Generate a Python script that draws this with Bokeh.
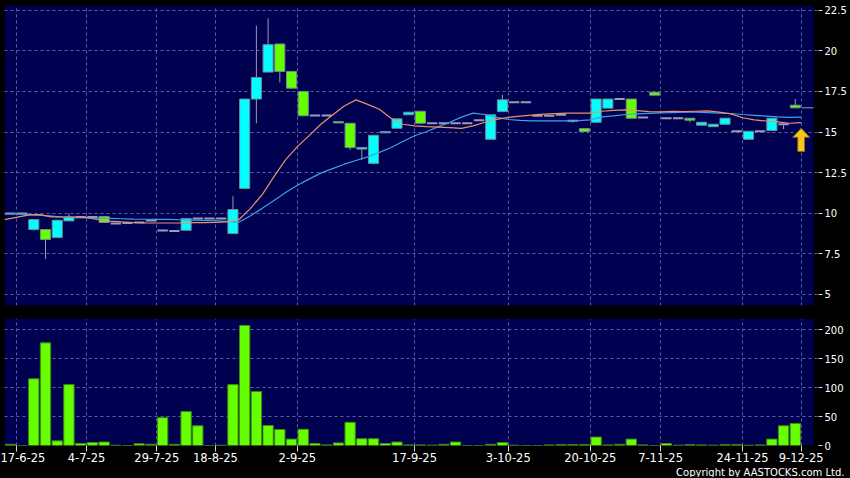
from bokeh.plotting import figure
from bokeh.layouts import column
from bokeh.models import (Range1d, FixedTicker, BoxAnnotation, Title, GlobalInlineStyleSheet)
from bokeh.embed import file_html
from bokeh.resources import INLINE

# ---------------- data ----------------
x_ticks = [0.5, 6.5, 12.5, 17.5, 24.5, 34.5, 42.5, 49.5, 55.5, 62.5, 67.5]
x_labels = ["17-6-25", "4-7-25", "29-7-25", "18-8-25", "2-9-25", "17-9-25",
            "3-10-25", "20-10-25", "7-11-25", "24-11-25", "9-12-25"]
price_ticks = [5, 7.5, 10, 12.5, 15, 17.5, 20, 22.5]
price_labels = ["5", "7.5", "10", "12.5", "15", "17.5", "20", "22.5"]
vol_ticks = [0, 50, 100, 150, 200]
vol_labels = ["0", "50", "100", "150", "200"]

open_ = [9.98, 9.98, 9.00, 9.00, 8.50, 9.53, 9.77, 9.77, 9.80, 9.37,
         9.40, 9.43, 9.55, 8.93, 8.90, 8.95, 9.68, 9.68, 9.68, 8.75,
         11.53, 17.03, 18.69, 20.42, 18.73, 17.50, 16.01, 16.01, 15.64, 15.54,
         13.95, 13.07, 14.95, 15.23, 16.06, 16.28, 15.54, 15.54, 15.54, 15.54,
         15.72, 14.55, 16.26, 16.84, 16.84, 16.00, 16.00, 16.06, 15.69, 15.21,
         15.60, 16.47, 17.03, 17.03, 15.89, 17.45, 15.85, 15.85, 15.85, 15.42,
         15.33, 15.48, 15.05, 14.55, 15.05, 15.09, 15.48, 16.65]
high = [9.98, 9.98, 9.61, 9.00, 9.57, 9.98, 9.77, 9.77, 9.80, 9.37,
        9.40, 9.43, 9.55, 8.93, 8.90, 9.68, 9.68, 9.68, 9.68, 11.05,
        17.03, 21.55, 22.00, 20.42, 18.73, 17.50, 16.01, 16.01, 15.64, 15.54,
        14.05, 14.80, 15.03, 15.81, 16.22, 16.28, 15.54, 15.54, 15.54, 15.54,
        15.72, 16.06, 17.29, 16.84, 16.84, 16.00, 16.00, 16.06, 15.69, 15.21,
        17.03, 17.03, 17.03, 17.03, 15.89, 17.45, 15.85, 15.85, 15.85, 15.60,
        15.48, 15.85, 15.05, 15.05, 15.05, 15.85, 15.48, 17.03]
low = [9.98, 9.98, 8.92, 7.18, 8.50, 9.53, 9.77, 9.77, 9.43, 9.37,
       9.40, 9.43, 9.55, 8.93, 8.90, 8.95, 9.68, 9.68, 9.68, 8.75,
       11.53, 15.54, 18.69, 18.05, 17.70, 16.00, 16.01, 16.01, 15.56, 13.90,
       13.28, 13.00, 14.95, 15.23, 16.06, 15.54, 15.54, 15.54, 15.54, 15.54,
       15.72, 14.55, 16.26, 16.84, 16.84, 16.00, 16.00, 16.06, 15.58, 15.03,
       15.55, 16.47, 17.03, 15.85, 15.89, 17.27, 15.85, 15.85, 15.60, 15.42,
       15.33, 15.48, 15.05, 14.55, 15.05, 15.05, 15.17, 16.49]
close = [9.98, 9.98, 9.61, 8.38, 9.57, 9.77, 9.77, 9.77, 9.43, 9.37,
         9.40, 9.43, 9.55, 8.93, 8.90, 9.68, 9.68, 9.68, 9.68, 10.23,
         17.03, 18.36, 20.38, 18.73, 17.70, 16.00, 16.01, 16.01, 15.56, 14.04,
         14.05, 14.80, 15.03, 15.81, 16.22, 15.54, 15.54, 15.54, 15.54, 15.54,
         15.72, 16.06, 16.98, 16.84, 16.84, 16.00, 16.00, 16.06, 15.69, 15.03,
         17.03, 17.03, 17.03, 15.85, 15.89, 17.27, 15.85, 15.85, 15.73, 15.60,
         15.48, 15.85, 15.05, 15.05, 15.05, 15.85, 15.48, 16.49]
volume = [2, 0, 115, 177, 8, 105, 3.5, 5, 6, 0.5,
          0, 3, 2, 48, 2, 58.5, 34, 0, 0.5, 105,
          207, 93, 34.5, 27.5, 11, 28, 3.5, 1, 4.5, 40,
          11.7, 11.7, 3.5, 6, 1, 1, 0.5, 2, 6, 0,
          0, 2, 5, 0.5, 0, 0, 1, 1.5, 1.5, 1.5,
          14.6, 1, 2, 11, 1, 0, 3.5, 0.5, 1.5, 1,
          0.5, 1.5, 1.5, 0.5, 1, 11, 34, 38]
ma_short = [9.61, 9.75, 9.88, 9.92, 9.78, 9.77, 9.77, 9.74, 9.60, 9.52,
            9.47, 9.43, 9.41, 9.40, 9.40, 9.40, 9.42, 9.42, 9.43, 9.47,
            9.60, 10.30, 11.15, 12.25, 13.30, 14.10, 14.78, 15.48, 16.05, 16.60,
            16.98, 16.70, 16.40, 15.85, 15.48, 15.38, 15.33, 15.30, 15.27, 15.23,
            15.38, 15.60, 15.78, 15.90, 15.98, 16.04, 16.10, 16.13, 16.16, 16.16,
            16.16, 16.28, 16.33, 16.36, 16.32, 16.26, 16.24, 16.28, 16.26, 16.28,
            16.30, 16.22, 16.12, 15.88, 15.75, 15.68, 15.62, 15.54, 15.58]
ma_long = [9.96, 9.96, 9.93, 9.88, 9.82, 9.76, 9.73, 9.71, 9.70, 9.68,
           9.66, 9.64, 9.63, 9.62, 9.62, 9.60, 9.58, 9.56, 9.53, 9.50,
           9.45, 9.85, 10.30, 10.78, 11.28, 11.72, 12.10, 12.47, 12.75, 13.02,
           13.25, 13.47, 13.75, 14.05, 14.42, 14.77, 15.02, 15.32, 15.60, 15.92,
           16.16, 16.08, 15.90, 15.77, 15.72, 15.69, 15.69, 15.69, 15.69, 15.70,
           15.75, 15.93, 16.00, 16.08, 16.12, 16.15, 16.18, 16.20, 16.22, 16.22,
           16.20, 16.17, 16.14, 16.08, 16.03, 15.98, 15.93, 15.90, 15.92]
arrow_x = 67.5
arrow_tip = 15.23
arrow_tail = 13.80

# ---------------- styling / layout ----------------
NAVY = "#000050"
GRID = "#5e5e9c"
CYAN = "#00FFFF"
LIME = "#66FF00"
FONT = "DejaVu Sans"
X_END = 68.55          # right edge of the navy panel (data units)
X_MAX = 68.98          # frame extends a few px past the navy panel
W = 849
LEFT, RIGHT = 4, 30
FRAME_W = W - LEFT - RIGHT
P_LO, P_HI = 4.32, 22.79
TOP_FRAME_H = 300

n = len(close)
idx = list(range(n))

x_range = Range1d(-0.5, X_MAX)

def style(p, ticks, labels):
    p.add_layout(BoxAnnotation(left=-0.5, right=X_END, fill_color=NAVY, fill_alpha=1.0,
                               line_color=None, level="image"))
    p.xgrid.ticker = FixedTicker(ticks=x_ticks)
    p.ygrid.ticker = FixedTicker(ticks=ticks)
    for g in (p.xgrid, p.ygrid):
        g.grid_line_color = GRID
        g.grid_line_dash = "3 3"
        g.grid_line_width = 1
    ax = p.yaxis[0]
    ax.ticker = FixedTicker(ticks=ticks)
    ax.major_label_overrides = dict(zip(ticks, labels))
    ax.axis_line_color = None
    ax.major_tick_line_color = "#d8d8d8"
    ax.major_tick_out = 4
    ax.major_tick_in = 0
    ax.minor_tick_line_color = None
    ax.major_label_text_color = "white"
    ax.major_label_text_font = FONT
    ax.major_label_text_font_size = "10px"
    ax.major_label_standoff = 2

# ---------------- price panel ----------------
top = figure(width=W, height=5 + TOP_FRAME_H + 1, x_range=x_range, y_range=Range1d(P_LO, P_HI),
             output_backend="svg", toolbar_location=None, y_axis_location="right",
             background_fill_color="black", border_fill_color="black",
             outline_line_color=None, min_border_left=LEFT, min_border_right=RIGHT,
             min_border_top=5, min_border_bottom=1)
top.xaxis.visible = False
style(top, price_ticks, price_labels)

body_x, body_top, body_bot, body_col = [], [], [], []
dash_x, dash_y = [], []
for i in idx:
    if open_[i] == close[i]:
        dash_x.append(i)
        dash_y.append(close[i])
    else:
        body_x.append(i)
        body_top.append(max(open_[i], close[i]))
        body_bot.append(min(open_[i], close[i]))
        body_col.append(CYAN if close[i] > open_[i] else LIME)

top.segment(x0=idx, y0=low, x1=idx, y1=high, line_color="#9a9aae", line_width=1)
top.vbar(x=body_x, top=body_top, bottom=body_bot, width=0.86, fill_color=body_col,
         line_color="#6f8c94", line_width=1)
top.segment(x0=[v - 0.44 for v in dash_x], y0=dash_y, x1=[v + 0.44 for v in dash_x],
            y1=dash_y, line_color="#9a9cb6", line_width=2)

ma_x = [k - 0.5 for k in range(len(ma_short))]
top.line(ma_x, ma_long, line_color="#3f9fe6", line_width=1.2)
top.line(ma_x, ma_short, line_color="#e8926a", line_width=1.2)

# last price marker
top.segment(x0=[n - 1 + 0.55], y0=[close[-1]], x1=[X_END], y1=[close[-1]],
            line_color="#a0a0b4", line_width=1)

# yellow arrow (pixel-sized shape anchored at a data point)
ux = FRAME_W / (X_MAX + 0.5)
uy = TOP_FRAME_H / (P_HI - P_LO)
hw, hh, sw = 8.5 / ux, 9 / uy, 3.4 / ux
ax_ = [arrow_x, arrow_x + hw, arrow_x + sw, arrow_x + sw, arrow_x - sw, arrow_x - sw, arrow_x - hw]
ay_ = [arrow_tip, arrow_tip - hh, arrow_tip - hh, arrow_tail, arrow_tail, arrow_tip - hh, arrow_tip - hh]
top.patch(ax_, ay_, fill_color="#f7c51e", line_color="#8c6a12", line_width=1)

# ---------------- volume panel ----------------
vol = figure(width=W, height=171, x_range=x_range, y_range=Range1d(0, 219),
             output_backend="svg", toolbar_location=None, y_axis_location="right",
             background_fill_color="black", border_fill_color="black",
             outline_line_color=None, min_border_left=LEFT, min_border_right=RIGHT,
             min_border_top=12, min_border_bottom=0)
style(vol, vol_ticks, vol_labels)
vol.vbar(x=idx, top=volume, width=0.88, fill_color=LIME, line_color="#3f8a12", line_width=1)

xa = vol.xaxis[0]
xa.ticker = FixedTicker(ticks=x_ticks)
xa.major_label_overrides = dict(zip(x_ticks, x_labels))
xa.axis_line_color = None
xa.major_tick_line_color = "#d8d8d8"
xa.major_tick_out = 6
xa.major_tick_in = 0
xa.minor_tick_line_color = None
xa.major_label_text_color = "white"
xa.major_label_text_font = FONT
xa.major_label_text_font_size = "11.5px"
xa.major_label_standoff = 1

vol.add_layout(Title(text="Copyright by AASTOCKS.com Ltd.", align="right", text_color="white",
                     text_font=FONT, text_font_size="10px", text_font_style="normal",
                     standoff=0, offset=-26), "below")

layout = column(top, vol, spacing=0,
                stylesheets=[GlobalInlineStyleSheet(css="html, body { background-color: #000000; }")])

open("out.html", "w").write(file_html(layout, INLINE))
